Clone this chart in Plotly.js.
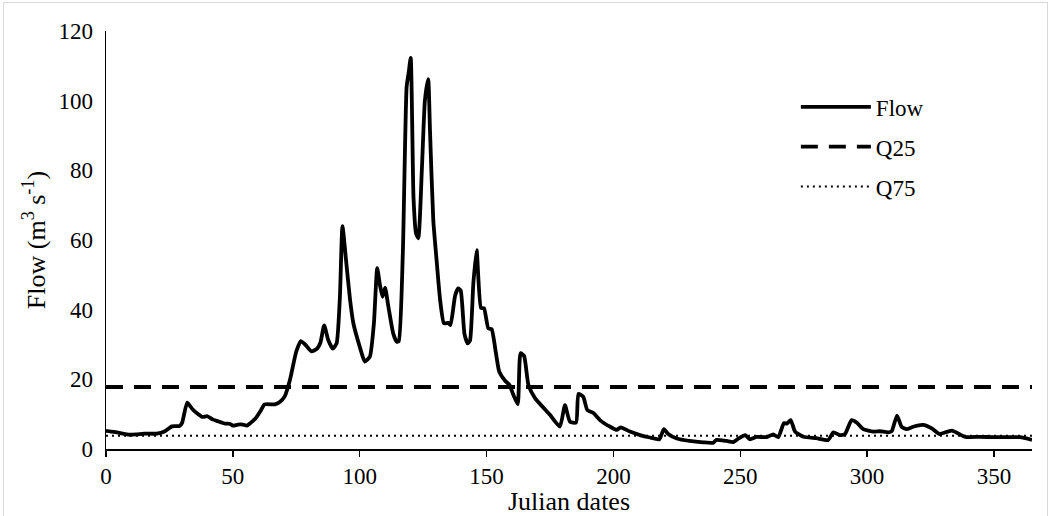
<!DOCTYPE html>
<html>
<head>
<meta charset="utf-8">
<script src="https://cdn.plot.ly/plotly-3.0.1.min.js"></script>
<style>
  html, body { margin: 0; padding: 0; background: #fff; overflow: hidden; }
  #frame { position: absolute; left: 3px; top: 2px; width: 1045px; height: 530px; border: 1px solid #d9d9d9; box-sizing: border-box; }
  #chart { position: absolute; left: 0; top: 0; width: 1052px; height: 516px; }
</style>
</head>
<body>
<div id="frame"></div>
<div id="chart"></div>
<script>
// Julian day of each reading
const julianDays = [0, 3, 6, 9, 12, 15, 20, 23, 26, 29, 30, 32, 34, 36, 38, 40, 42, 44, 47, 49, 50, 52, 54, 55.5, 57, 59, 61, 62.5, 66.5, 68.5, 70.5, 72.5, 75, 76.8, 78.5, 81, 83.3, 84.5, 86, 87.6, 89.4, 90.9, 92.2, 93.2, 94.6, 96.2, 97.5, 100, 102, 104, 105.6, 106.9, 108, 109, 110, 111.3, 113.2, 114.6, 115.4, 117, 118.5, 119.3, 120.1, 121.2, 122.2, 123.1, 124.5, 125.7, 127, 127.7, 129, 130.3, 131.7, 133.2, 134.9, 135.8, 137.6, 138.8, 139.8, 141.3, 142.6, 143.5, 144.8, 146.1, 147.8, 149, 150.7, 152, 153.7, 155, 157.3, 159, 160.6, 162.3, 163.4, 164.8, 166.5, 169.1, 175, 178.9, 180.9, 182.9, 185.3, 186.2, 188.1, 189.7, 192, 194.7, 198.7, 201.3, 202.9, 206.5, 210.5, 214.4, 218.1, 219.9, 221.6, 225, 230, 235.4, 239.4, 240.5, 244.6, 247.3, 249.5, 252, 253.8, 256.4, 260.4, 263, 265, 267.2, 268.4, 269.9, 271.6, 274.9, 280, 284.7, 286.7, 289.3, 291.3, 293.9, 295.9, 298.5, 302.5, 305.1, 308.4, 309.7, 311.8, 313.6, 315.6, 318.2, 322, 325.5, 328.5, 333.4, 338.6, 344.5, 349.7, 355, 360.3, 365];
// Flow (m3 s-1)
const flowValues = [5.2, 4.9, 4.5, 4.1, 4.2, 4.4, 4.4, 5.0, 6.5, 6.6, 7.5, 13.3, 11.5, 10.2, 9.2, 9.4, 8.5, 8.0, 7.3, 7.2, 6.7, 7.0, 7.0, 6.7, 7.5, 8.8, 11.0, 12.8, 12.8, 13.5, 15.2, 19.8, 28.0, 31.0, 30.0, 28.0, 28.9, 30.5, 35.5, 31.3, 28.8, 30.3, 43.7, 64.0, 54.3, 42.8, 36.1, 29.4, 25.1, 26.5, 36.1, 51.9, 47.0, 43.7, 46.3, 40.9, 33.2, 30.8, 31.0, 56.2, 104.0, 108.0, 112.3, 72.4, 61.9, 60.5, 80.1, 100.0, 106.2, 91.6, 65.7, 54.3, 42.8, 36.1, 36.2, 35.6, 44.0, 46.1, 45.5, 33.0, 30.3, 31.2, 47.6, 57.1, 40.5, 40.4, 34.6, 34.4, 27.5, 22.2, 19.6, 18.4, 15.5, 12.9, 27.5, 26.7, 18.4, 14.6, 9.8, 6.4, 12.6, 7.8, 7.6, 15.8, 15.0, 11.2, 10.4, 8.3, 6.4, 5.5, 6.2, 5.0, 4.0, 3.3, 2.8, 5.7, 4.3, 3.0, 2.3, 1.9, 1.8, 2.6, 2.3, 2.0, 3.1, 4.0, 2.8, 3.5, 3.4, 4.2, 3.4, 7.4, 7.3, 8.3, 5.0, 3.5, 3.1, 2.6, 4.8, 4.0, 4.3, 8.3, 7.6, 5.7, 5.0, 5.1, 4.8, 5.1, 9.6, 6.4, 5.7, 6.4, 6.9, 5.9, 4.3, 5.3, 3.5, 3.5, 3.4, 3.4, 3.4, 2.6];
const q25Value = 17.8;
const q75Value = 3.8;
const seriesNames = ["Flow", "Q25", "Q75"];
const xTickValues = [0, 50, 100, 150, 200, 250, 300, 350];
const yTickValues = [0, 20, 40, 60, 80, 100, 120];
const xRange = [0, 365];

const font = "Liberation Serif, Times New Roman, serif";

const traces = [
  { x: julianDays, y: flowValues, name: seriesNames[0], type: "scatter", mode: "lines",
    line: { color: "#000", width: 3.8, shape: "spline", smoothing: 0.5 }, legendgroup: "a" },
  { x: xRange, y: [q25Value, q25Value], name: seriesNames[1], type: "scatter", mode: "lines",
    line: { color: "#000", width: 3.8, dash: "17px,11px" }, legendgroup: "b" },
  { x: xRange, y: [q75Value, q75Value], name: seriesNames[2], type: "scatter", mode: "lines",
    line: { color: "#000", width: 2, dash: "2px,4px" }, legendgroup: "c" }
];

const layout = {
  width: 1052, height: 516,
  margin: { l: 106, r: 20, t: 31, b: 67 },
  paper_bgcolor: "rgba(0,0,0,0)", plot_bgcolor: "rgba(0,0,0,0)",
  font: { family: font, size: 23, color: "#000" },
  showlegend: true,
  legend: { x: 0.745, y: 0.87, xanchor: "left", yanchor: "top", bgcolor: "rgba(0,0,0,0)",
            font: { family: font, size: 23, color: "#000" }, itemwidth: 70, tracegroupgap: 7,
            traceorder: "grouped" },
  xaxis: {
    range: xRange, tickvals: xTickValues, ticktext: xTickValues.map(String),
    showgrid: false, zeroline: false, showline: true, linecolor: "#000", linewidth: 1.5,
    ticks: "outside", ticklen: 6, tickwidth: 1.5, tickcolor: "#000",
    tickfont: { family: font, size: 23, color: "#000" },
    title: { text: "Julian dates", font: { family: font, size: 26, color: "#000" }, standoff: 2 }
  },
  yaxis: {
    range: [0, 120], tickvals: yTickValues, ticktext: yTickValues.map(String),
    showgrid: false, zeroline: false, showline: true, linecolor: "#000", linewidth: 1.5,
    ticks: "", ticklabelstandoff: 7, tickfont: { family: font, size: 23, color: "#000" },
    title: { text: "Flow (m<sup>3</sup> s<sup>-1</sup>)", font: { family: font, size: 26, color: "#000" }, standoff: 5 }
  }
};

Plotly.newPlot("chart", traces, layout, { displayModeBar: false, staticPlot: true });
</script>
</body>
</html>
